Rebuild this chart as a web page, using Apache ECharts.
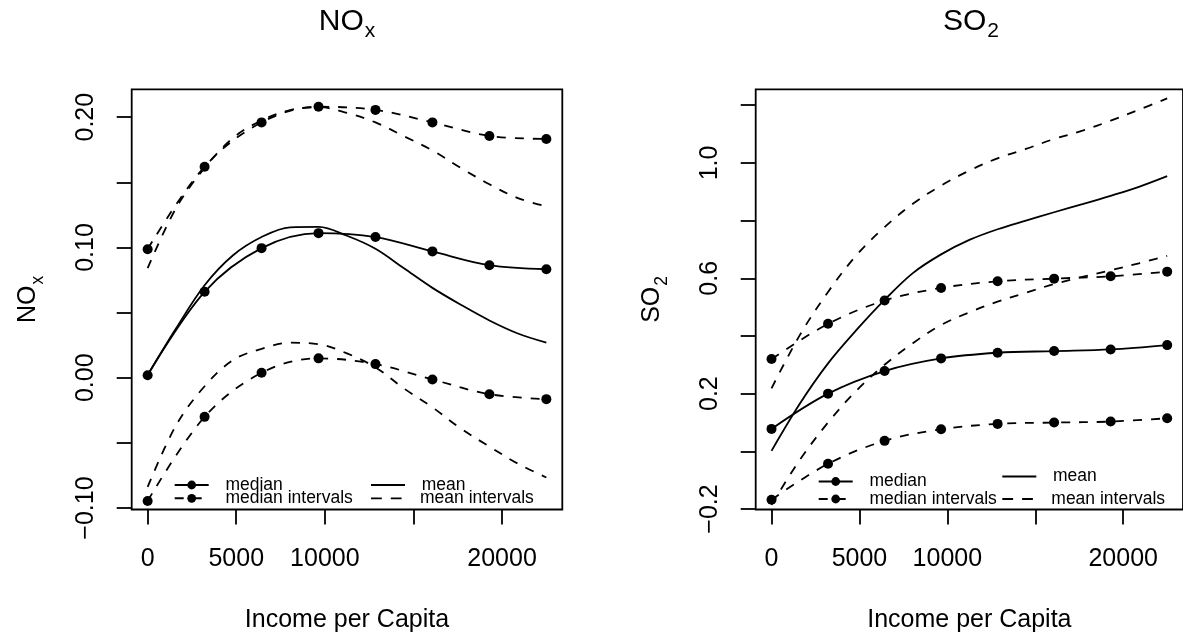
<!DOCTYPE html>
<html><head><meta charset="utf-8">
<script src="https://cdn.jsdelivr.net/npm/echarts@6/dist/echarts.min.js"></script>
<style>html,body{margin:0;padding:0;background:#fff}#c{width:1183px;height:638px}</style>
</head><body><div id="c"></div>
<script>
// ---- data ----
const incomeMedian = [0, 3214, 6429, 9643, 12857, 16071, 19286, 22500];
const incomeMean = [0, 1607, 3214, 4821, 6429, 8036, 9643, 11250, 12857, 14464, 16071, 17679, 19286, 20893, 22500];

const noxMedian      = [0.002, 0.066, 0.0995, 0.111, 0.108, 0.097, 0.0864, 0.0833];
const noxMedianUpper = [0.0987, 0.162, 0.196, 0.208, 0.2056, 0.196, 0.1856, 0.1833];
const noxMedianLower = [-0.0946, -0.030, 0.0038, 0.0149, 0.0105, -0.0013, -0.0126, -0.0164];
const noxMean        = [0.0021, 0.038, 0.071, 0.094, 0.108, 0.1155, 0.1158, 0.109, 0.099, 0.084, 0.069, 0.056, 0.044, 0.034, 0.027];
const noxMeanUpper   = [0.0841, 0.1303, 0.161, 0.1841, 0.1975, 0.2055, 0.2077, 0.2033, 0.1960, 0.1854, 0.1745, 0.161, 0.1485, 0.1379, 0.1315];
const noxMeanLower   = [-0.0838, -0.0364, -0.0065, 0.0136, 0.0222, 0.0269, 0.0258, 0.0187, 0.0080, -0.0082, -0.0227, -0.039, -0.0528, -0.0659, -0.0765];

const so2Median      = [0.0778, 0.2, 0.2784, 0.3222, 0.3418, 0.3476, 0.3533, 0.3683];
const so2MedianUpper = [0.3199, 0.4421, 0.5228, 0.5666, 0.5896, 0.5988, 0.6069, 0.6231];
const so2MedianLower = [-0.1677, -0.0432, 0.0363, 0.0767, 0.0951, 0.0997, 0.1032, 0.1147];
const so2Mean        = [0.0017, 0.165, 0.305, 0.42, 0.525, 0.618, 0.683, 0.733, 0.77, 0.80, 0.829, 0.857, 0.886, 0.917, 0.954];
const so2MeanUpper   = [0.2184, 0.4029, 0.5527, 0.6795, 0.7775, 0.8582, 0.9216, 0.9735, 1.0161, 1.0484, 1.083, 1.1118, 1.1464, 1.1844, 1.2236];
const so2MeanLower   = [-0.185, -0.03, 0.10, 0.21, 0.30, 0.375, 0.438, 0.482, 0.519, 0.55, 0.58, 0.605, 0.628, 0.652, 0.678];

const xTickValues  = [0, 5000, 10000, 15000, 20000];
const xLabelValues = [0, 5000, 10000, 20000];
const noxTickValues  = [-0.10, -0.05, 0, 0.05, 0.10, 0.15, 0.20];
const noxLabelValues = [-0.10, 0, 0.10, 0.20];
const so2TickValues  = [-0.2, 0, 0.2, 0.4, 0.6, 0.8, 1.0, 1.2];
const so2LabelValues = [-0.2, 0.2, 0.6, 1.0];

// ---- chart ----
const FONT = '"Liberation Sans", Arial, Helvetica, sans-serif';
const BLACK = '#000';
const LW = 1.8;
const DASH = [9, 9];
function pairs(xs, ys) { return xs.map((x, i) => [x, ys[i]]); }
function fmt(v, d) { return (v < -1e-9 ? '\u2212' : '') + Math.abs(v).toFixed(d); }

const GRID_TOP = 89.3, GRID_H = 421.2, GRID_W = 430.6;
const panels = [
  { left: 131.7, title: ['NO', 'x'], ymin: -0.1011, ymax: 0.2214, ticks: noxTickValues, labels: noxLabelValues, dec: 2,
    median: noxMedian, up: noxMedianUpper, lo: noxMedianLower, mean: noxMean, mup: noxMeanUpper, mlo: noxMeanLower,
    legend: { c1: 173.7, c2: 371, r1a: 485, r1b: 485, r2a: 498.3, r2b: 498.3 } },
  { left: 755.7, title: ['SO', '2'], ymin: -0.2017, ymax: 1.2553, ticks: so2TickValues, labels: so2LabelValues, dec: 1,
    median: so2Median, up: so2MedianUpper, lo: so2MedianLower, mean: so2Mean, mup: so2MeanUpper, mlo: so2MeanLower,
    legend: { c1: 817.7, c2: 1002.3, r1a: 481.5, r1b: 476.5, r2a: 499, r2b: 499 } }
];

const richBig = (size, lh) => ({ fontSize: size, lineHeight: lh, fontFamily: FONT, fontWeight: 'normal', color: BLACK, verticalAlign: 'middle' });
const richSub = (size, pad) => ({ fontSize: size, lineHeight: size, fontFamily: FONT, fontWeight: 'normal', color: BLACK, padding: [pad, 0, 0, 1], verticalAlign: 'middle' });

const option = { animation: false, backgroundColor: '#fff', grid: [], xAxis: [], yAxis: [], series: [], legend: [], title: [] };

panels.forEach((p, i) => {
  option.grid.push({ left: p.left, top: GRID_TOP, width: GRID_W, height: GRID_H, show: true,
    borderColor: BLACK, borderWidth: LW, backgroundColor: 'transparent' });
  option.title.push({ text: '{a|' + p.title[0] + '}{s|' + p.title[1] + '}', left: p.left + GRID_W / 2, top: 4,
    textAlign: 'center', padding: 0,
    textStyle: { fontWeight: 'normal', rich: { a: richBig(30, 36), s: richSub(21, 18) } } });
  option.xAxis.push({ type: 'value', gridIndex: i, min: -900, max: 23400,
    axisLine: { show: false, onZero: false }, splitLine: { show: false },
    axisTick: { show: true, length: 15, lineStyle: { color: BLACK, width: LW }, customValues: xTickValues },
    axisLabel: { customValues: xLabelValues, margin: 37, fontSize: 25, color: BLACK, fontFamily: FONT, formatter: v => String(v) },
    name: 'Income per Capita', nameLocation: 'middle', nameGap: 98.5,
    nameTextStyle: { fontSize: 25, color: BLACK, fontFamily: FONT } });
  option.yAxis.push({ type: 'value', gridIndex: i, min: p.ymin, max: p.ymax,
    axisLine: { show: false, onZero: false }, splitLine: { show: false },
    axisTick: { show: true, length: 15, lineStyle: { color: BLACK, width: LW }, customValues: p.ticks },
    axisLabel: { customValues: p.labels, rotate: 90, margin: 32.7, fontSize: 25, color: BLACK, fontFamily: FONT,
      formatter: v => fmt(v, p.dec) },
    name: '{a|' + p.title[0] + '}{s|' + p.title[1] + '}', nameLocation: 'middle', nameGap: 88.5, nameRotate: 90,
    nameTextStyle: { rich: { a: richBig(25, 30), s: richSub(17.5, 19) } } });

  const base = { type: 'line', xAxisIndex: i, yAxisIndex: i, smooth: 0.35, itemStyle: { color: BLACK } };
  const pts = { symbol: 'circle', symbolSize: 10, showSymbol: true };
  option.series.push(Object.assign({}, base, pts, { name: 'median', data: pairs(incomeMedian, p.median),
    lineStyle: { color: BLACK, width: LW, type: 'solid' }, z: 4 }));
  option.series.push(Object.assign({}, base, pts, { name: 'median intervals', data: pairs(incomeMedian, p.up),
    lineStyle: { color: BLACK, width: LW, type: DASH }, z: 4 }));
  option.series.push(Object.assign({}, base, pts, { name: 'median intervals', data: pairs(incomeMedian, p.lo),
    lineStyle: { color: BLACK, width: LW, type: DASH }, z: 4 }));
  option.series.push(Object.assign({}, base, { name: 'mean', symbol: 'none', data: pairs(incomeMean, p.mean),
    lineStyle: { color: BLACK, width: LW, type: 'solid' }, z: 3 }));
  option.series.push(Object.assign({}, base, { name: 'mean intervals', symbol: 'none', data: pairs(incomeMean, p.mup),
    lineStyle: { color: BLACK, width: LW, type: DASH }, z: 3 }));
  option.series.push(Object.assign({}, base, { name: 'mean intervals', symbol: 'none', data: pairs(incomeMean, p.mlo),
    lineStyle: { color: BLACK, width: LW, type: DASH }, z: 3 }));

  const L = p.legend;
  const leg = (name, left, rowCenter, icon, ih) => {
    const o = { data: [name], left: left, top: rowCenter - 10, orient: 'horizontal',
      itemWidth: 34, itemHeight: ih, itemGap: 0, padding: 0, selectedMode: false,
      textStyle: { fontSize: 17.5, color: BLACK, fontFamily: FONT, lineHeight: 20, padding: [0, 0, 0, 11.7] } };
    if (icon) { o.icon = icon; o.itemStyle = { color: BLACK, borderWidth: 0 }; }
    return o;
  };
  option.legend.push(leg('median', L.c1, L.r1a, null, 11));
  option.legend.push(leg('median intervals', L.c1, L.r2a, null, 11));
  option.legend.push(leg('mean', L.c2, L.r1b, 'rect', 1.8));
  option.legend.push(leg('mean intervals', L.c2, L.r2b, 'path://M0,0h12v2h-12z M22,0h12v2h-12z', 1.8));
});

const chart = echarts.init(document.getElementById('c'), null, { renderer: 'canvas' });
chart.setOption(option);
</script>
</body></html>
